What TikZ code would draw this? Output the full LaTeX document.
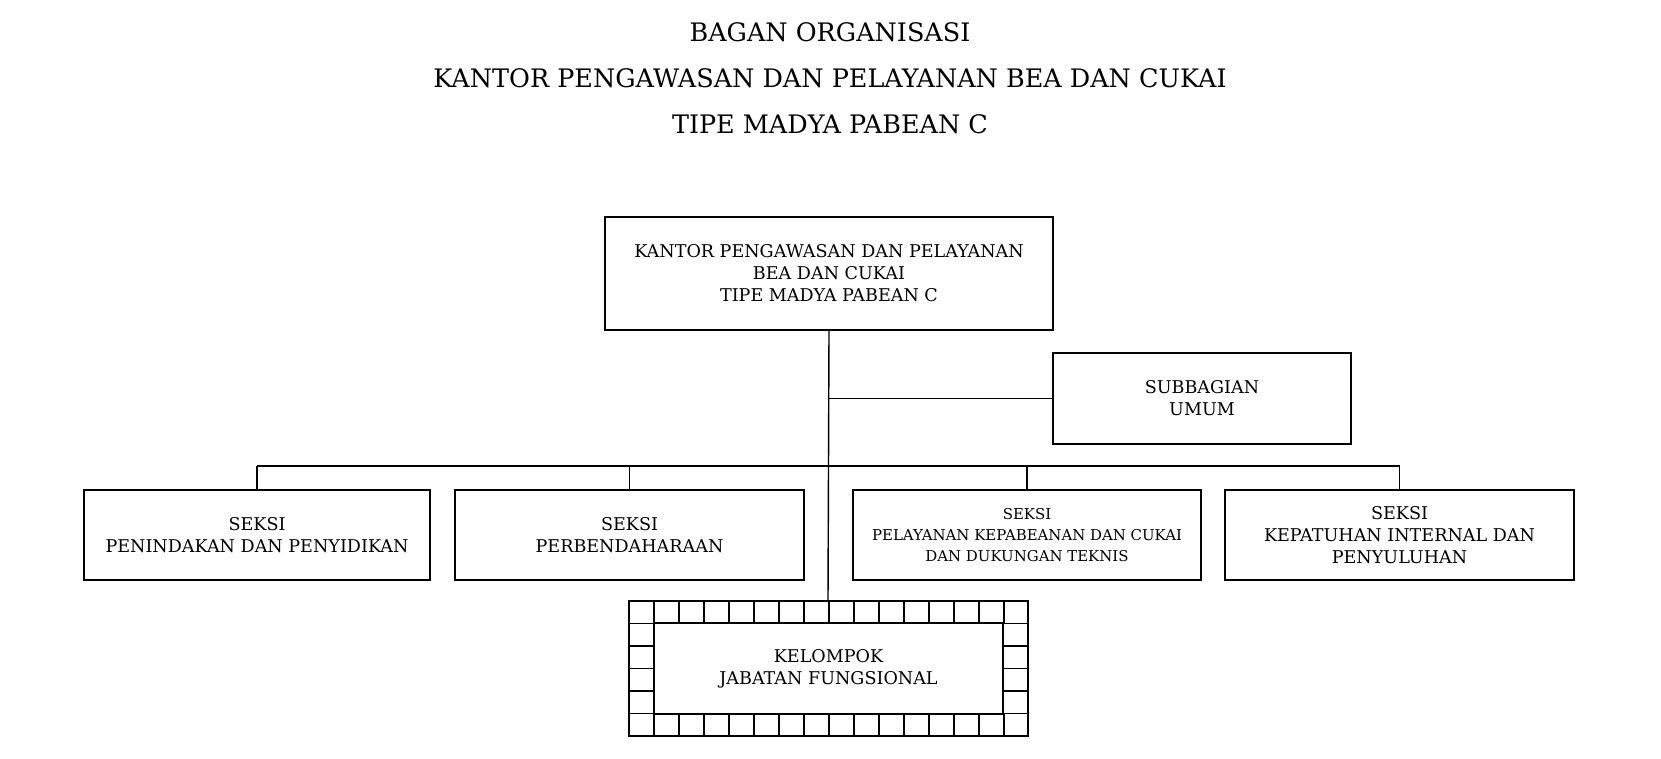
\documentclass[tikz,border=0pt]{standalone}
\usepackage{fontspec}
\setmainfont{DejaVu Serif}
\usetikzlibrary{positioning}

\begin{document}
\begin{tikzpicture}[x=0.02cm, y=-0.02cm,
        unit/.style={draw, thick, align=center, inner sep=2pt, font=\fontsize{10}{12.5}\selectfont},
        title/.style={font=\fontsize{14.5}{18}\selectfont},
        link/.style={thick}
    ]
        \useasboundingbox (0,0) rectangle (1661,759);

        \node[title] (t1) at (830,32) {BAGAN ORGANISASI};
        \node[title] (t2) at (830,78) {KANTOR PENGAWASAN DAN PELAYANAN BEA DAN CUKAI};
        \node[title] (t3) at (830,124) {TIPE MADYA PABEAN C};

        \node[unit, minimum width=8.96cm, minimum height=2.26cm] (kppbc) at (829,273.5)
            {KANTOR PENGAWASAN DAN PELAYANAN\\BEA DAN CUKAI\\TIPE MADYA PABEAN C};
        \node[unit, minimum width=5.96cm, minimum height=1.82cm] (umum) at (1202,398.5)
            {SUBBAGIAN\\UMUM};

        \node[unit, minimum width=6.92cm, minimum height=1.8cm] (s1) at (257,535)
            {SEKSI\\PENINDAKAN DAN PENYIDIKAN};
        \node[unit, minimum width=6.98cm, minimum height=1.8cm] (s2) at (629.5,535)
            {SEKSI\\PERBENDAHARAAN};
        \node[unit, minimum width=6.96cm, minimum height=1.8cm, font=\fontsize{8.5}{12}\selectfont] (s3) at (1027,535)
            {SEKSI\\PELAYANAN KEPABEANAN DAN CUKAI\\DAN DUKUNGAN TEKNIS};
        \node[unit, minimum width=6.98cm, minimum height=1.8cm] (s4) at (1399.5,535)
            {SEKSI\\KEPATUHAN INTERNAL DAN\\PENYULUHAN};

        % kelompok jabatan fungsional
        \node[unit, minimum width=6.98cm, minimum height=1.82cm] (kjf) at (828.5,668.5)
            {KELOMPOK\\JABATAN FUNGSIONAL};
        \draw[thick] (629,601) rectangle (1028,736);
        \foreach \i in {1,...,15}
            \draw[thick] (629+25*\i,601) -- (629+25*\i,623)
                         (629+25*\i,714) -- (629+25*\i,736);
        \foreach \j in {1,...,5}
            \draw[thick] (629,601+22.5*\j) -- (654,601+22.5*\j)
                         (1003,601+22.5*\j) -- (1028,601+22.5*\j);
        \coordinate (kjftop) at (828,601);

        \coordinate (busL) at (257,466);
        \coordinate (busR) at (1399.5,466);
        \draw[link] (kppbc.south) -- (kjftop);
        \draw[link] (kppbc.south |- umum.west) -- (umum.west);
        \draw[link] (busL) -- (busR);
        \draw[link] (busL) -- (s1.north);
        \draw[link] (s2.north |- busL) -- (s2.north);
        \draw[link] (s3.north |- busL) -- (s3.north);
        \draw[link] (busR) -- (s4.north);

    \end{tikzpicture}
\end{document}
